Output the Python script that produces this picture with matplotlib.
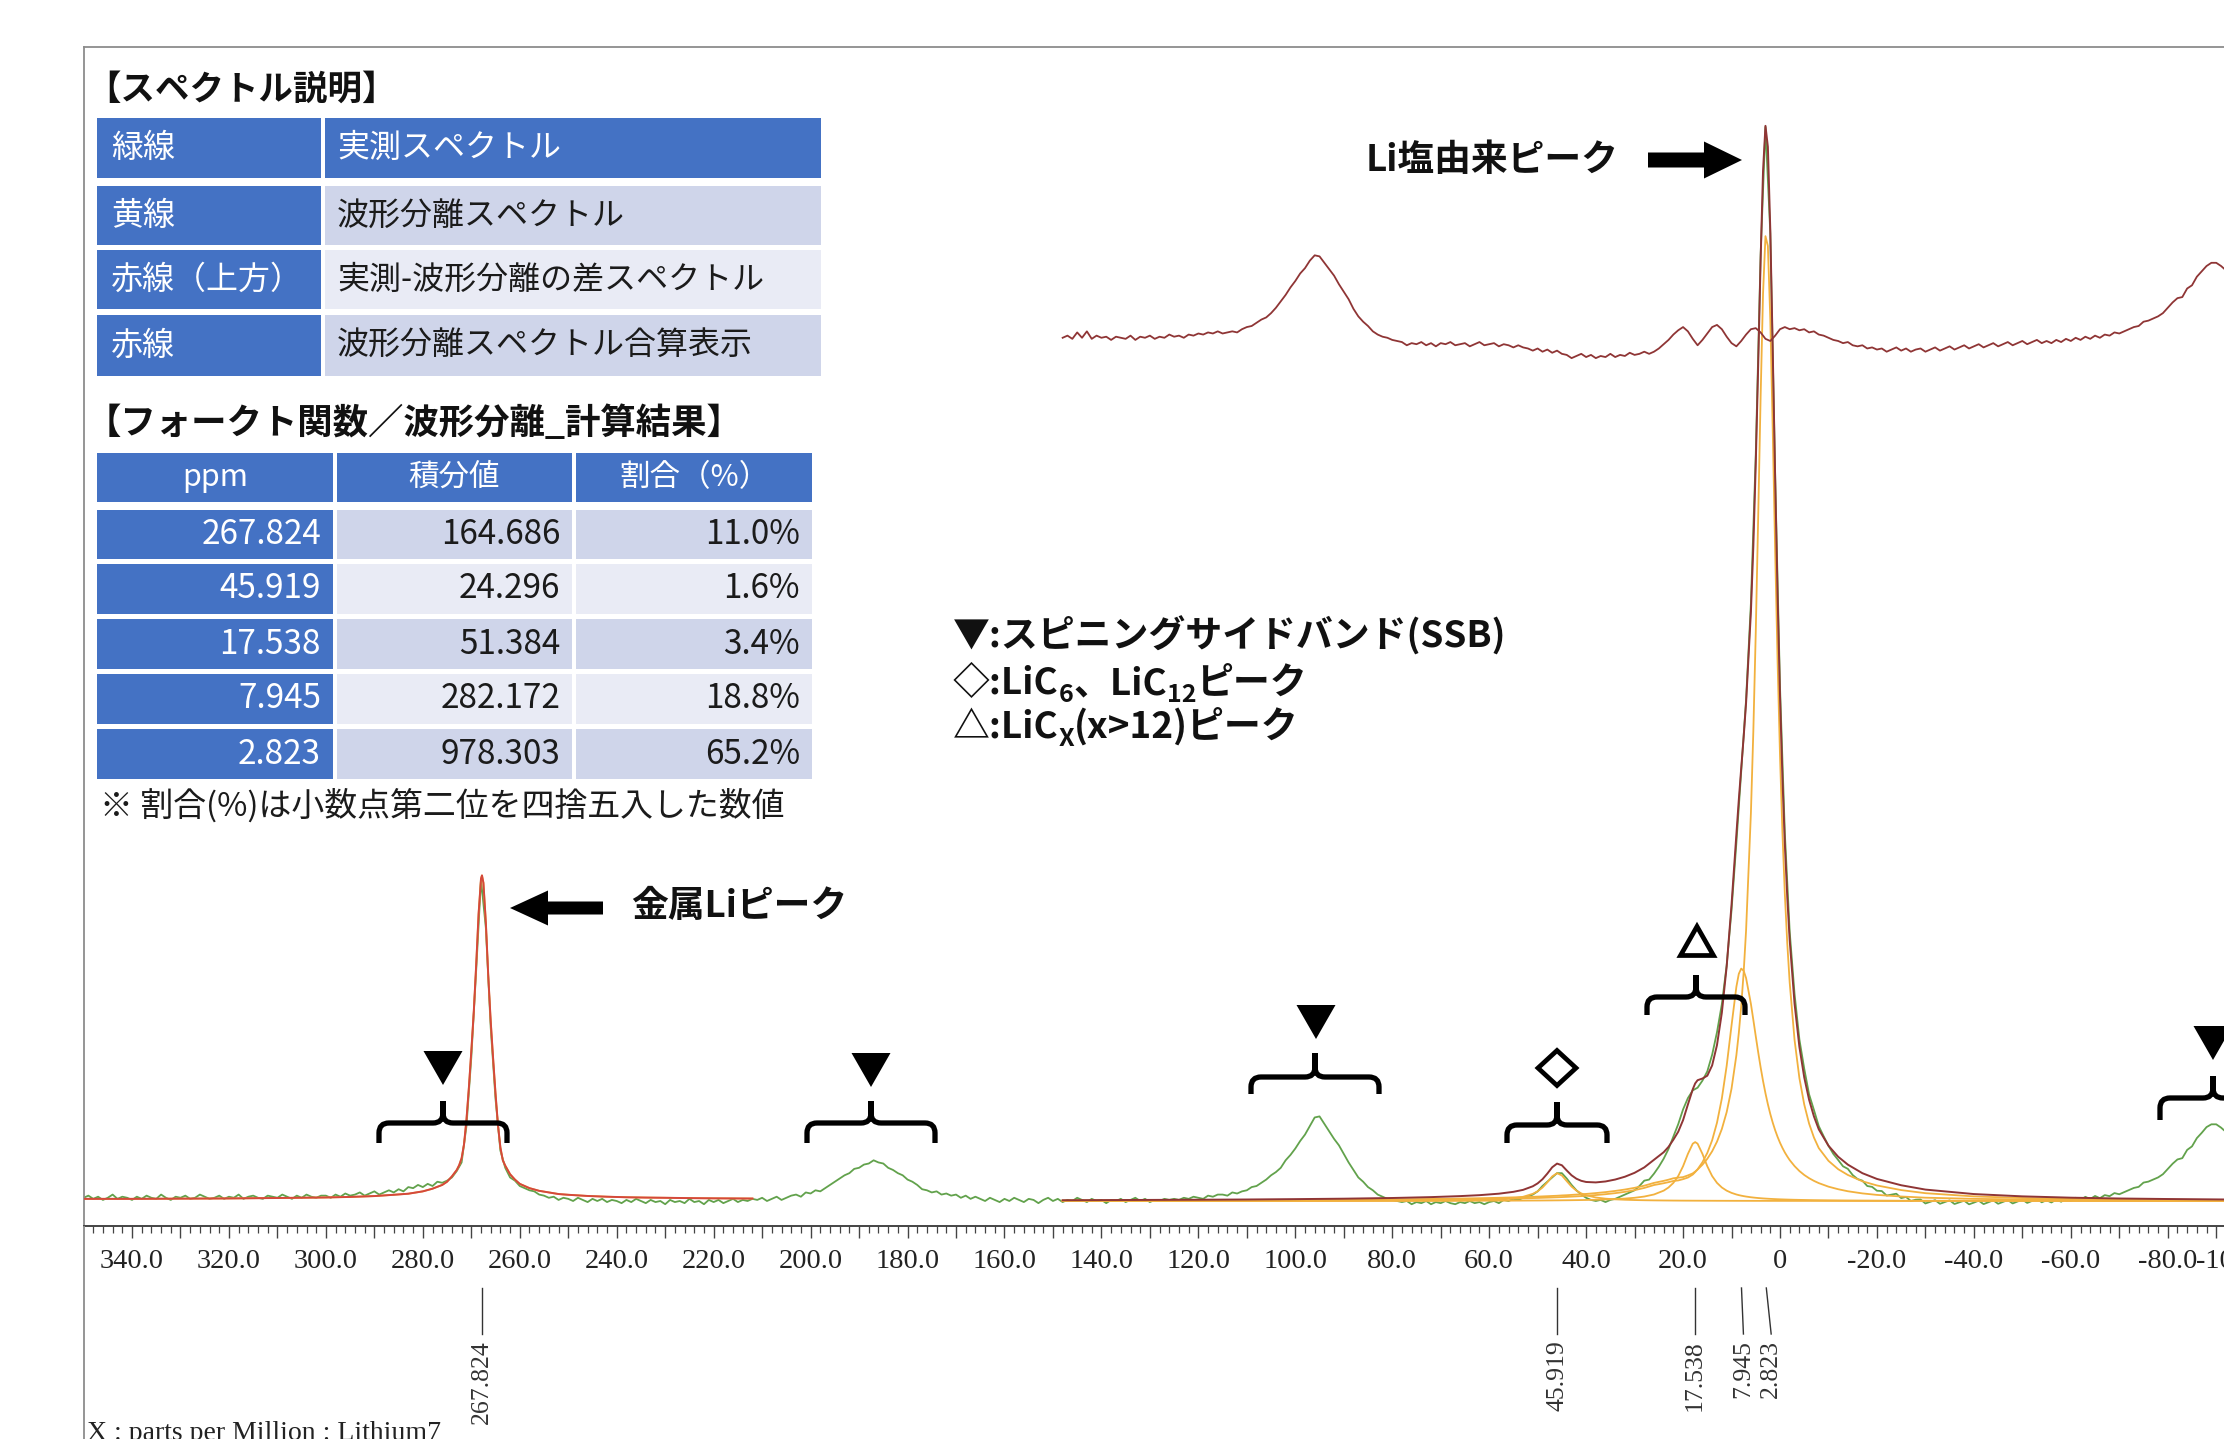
import numpy as np
import matplotlib
matplotlib.use("Agg")
import matplotlib.pyplot as plt
from matplotlib.patches import Rectangle, FancyArrow, Polygon, PathPatch
from matplotlib.path import Path
from matplotlib.ticker import MultipleLocator, FuncFormatter

JP = ["Noto Sans CJK JP", "DejaVu Sans"]
SERIF = ["Liberation Serif", "DejaVu Serif"]
plt.rcParams["font.family"] = JP

# ------------------------------------------------------------------ data
# measured 7Li spectrum (green), 1 ppm steps from 350 ppm down to -92 ppm
GREEN_START = 350
GREEN = [
    0.3,0.5,0.2,0.4,0.1,0.3,0.6,0.2,0.4,0.3,
    0.1,0.4,0.2,0.5,0.3,0.2,0.6,0.3,0.1,0.4,
    0.3,0.5,0.2,0.3,0.6,0.4,0.2,0.3,0.5,0.2,
    0.4,0.3,0.6,0.2,0.4,0.5,0.3,0.2,0.5,0.4,
    0.3,0.6,0.4,0.2,0.5,0.3,0.6,0.4,0.3,0.5,
    0.5,0.3,0.6,0.4,0.7,0.5,0.6,0.8,0.5,0.7,
    0.9,0.6,0.8,1.0,0.8,1.1,0.9,1.3,1.2,1.5,
    1.3,1.6,1.4,1.8,1.7,1.9,2.2,2.8,3.6,7.0,
    13.4,21.5,30.0,25.5,16.2,9.5,4.7,3.1,2.2,1.9,
    1.4,1.2,1.0,0.9,0.6,0.5,0.3,0.4,0.1,0.3,
    0.2,0.0,0.3,0.1,-0.1,0.2,0.0,0.2,-0.1,0.1,
    0.0,-0.2,0.1,-0.1,0.2,0.0,-0.2,0.1,-0.1,0.0,
    -0.3,0.1,-0.1,0.0,-0.2,0.2,-0.1,0.0,-0.3,0.1,
    -0.1,0.1,-0.2,0.0,0.2,-0.1,0.1,0.0,0.2,0.1,
    0.3,0.0,0.2,0.4,0.1,0.3,0.5,0.6,0.4,0.8,
    0.7,1.0,0.9,1.2,1.5,1.8,2.1,2.4,2.6,3.0,
    3.1,3.4,3.5,3.8,3.6,3.5,3.1,2.9,2.6,2.4,
    2.0,1.8,1.5,1.1,1.0,0.8,0.9,0.6,0.7,0.5,
    0.6,0.3,0.5,0.2,0.4,0.2,0.0,0.3,0.1,-0.1,
    0.2,0.0,0.3,0.1,-0.1,0.2,0.1,-0.2,0.1,0.3,
    0.0,0.2,-0.1,0.1,0.0,0.3,0.1,-0.1,0.2,0.0,
    0.1,-0.2,0.1,0.0,0.2,-0.1,0.1,0.3,0.0,0.2,
    -0.1,0.1,0.0,0.2,0.1,0.2,0.1,0.3,0.2,0.4,
    0.3,0.2,0.5,0.4,0.6,0.6,0.5,0.8,0.7,0.9,
    1.0,1.3,1.4,1.7,2.0,2.4,2.7,3.1,3.8,4.3,
    4.9,5.6,6.2,7.0,7.8,7.9,7.2,6.5,5.8,5.2,
    4.4,3.6,2.9,2.2,1.8,1.3,1.0,0.6,0.4,0.2,
    0.1,0.0,-0.1,0.0,-0.3,-0.1,-0.2,0.0,-0.3,-0.1,
    -0.2,0.0,-0.2,-0.3,-0.1,-0.2,0.0,-0.2,-0.1,-0.3,
    -0.1,0.0,-0.2,0.1,0.0,0.2,0.1,0.3,0.4,0.6,
    0.9,1.4,1.8,2.2,2.6,2.6,2.1,1.5,1.0,0.6,
    0.3,0.1,0.0,0.1,-0.1,0.1,0.2,0.4,0.6,0.8,
    1.0,1.4,1.9,2.0,2.55,3.2,3.95,4.86,6.02,7.17,
    8.55,9.61,10.33,10.58,11.24,12.1,13.66,15.76,18.37,22.02,
    27.16,33.44,40.13,46.8,55.83,69.74,88.32,100.29,90.35,67.74,
    48.0,34.33,25.15,19.34,15.09,12.35,9.96,8.5,6.99,6.05,
    5.16,4.4,3.83,3.24,3.0,2.42,2.05,1.9,1.4,1.32,
    0.96,0.93,0.51,0.59,0.68,0.27,0.38,0.0,0.12,0.14,
    -0.23,-0.07,0.08,-0.26,-0.1,0.06,-0.28,-0.12,0.03,-0.31,
    -0.15,0.03,-0.29,-0.12,0.06,-0.26,-0.08,0.09,-0.23,-0.05,
    0.13,-0.18,0.01,0.19,-0.12,0.07,-0.14,0.14,-0.07,0.22,
    0.01,0.30,0.09,0.39,0.18,0.47,0.26,0.55,0.45,0.74,
    0.63,0.83,1.02,1.22,1.32,1.72,1.81,2.0,2.2,2.5,
    2.99,3.48,3.88,4.0,4.77,5.1,5.87,6.36,6.9,7.16,
    7.16,6.85,6.45,
]

# difference spectrum (measured - fit), 1 ppm steps from 148 ppm down to -92 ppm
DIFF_START = 148
DIFF = [
    0.0,0.2,-0.1,0.5,0.0,0.6,-0.1,0.2,0.0,0.1,
    -0.2,0.1,0.0,-0.1,0.2,-0.2,0.1,0.0,0.2,-0.1,
    0.1,0.0,0.3,0.1,0.2,0.0,0.3,0.2,0.4,0.3,
    0.5,0.4,0.6,0.4,0.5,0.6,0.5,0.8,1.0,1.1,
    1.4,1.7,1.9,2.3,2.8,3.4,4.0,4.7,5.3,6.0,
    6.5,7.2,7.7,7.6,7.0,6.4,5.8,5.0,4.3,3.6,
    2.7,2.0,1.5,1.1,0.6,0.3,0.1,0.0,-0.2,-0.3,
    -0.4,-0.7,-0.5,-0.6,-0.4,-0.7,-0.5,-0.8,-0.5,-0.6,
    -0.4,-0.7,-0.6,-0.5,-0.8,-0.6,-0.4,-0.7,-0.6,-0.5,
    -0.8,-0.6,-0.7,-0.9,-0.7,-0.9,-1.0,-1.2,-1.0,-1.3,
    -1.1,-1.4,-1.2,-1.5,-1.6,-1.9,-1.7,-1.5,-1.8,-1.6,
    -1.9,-1.7,-1.8,-1.5,-1.8,-1.6,-1.7,-1.4,-1.6,-1.5,
    -1.3,-1.5,-1.3,-1.0,-0.6,-0.2,0.3,0.7,1.0,0.6,
    -0.1,-0.7,-0.2,0.4,1.0,1.2,0.8,0.1,-0.5,-0.8,
    -0.3,0.3,0.8,0.9,0.5,-0.1,-0.3,0.2,0.8,1.0,
    0.8,0.9,0.7,0.8,0.5,0.6,0.3,0.2,0.0,-0.2,
    -0.3,-0.5,-0.4,-0.7,-0.8,-0.7,-1.0,-0.9,-1.1,-1.0,
    -1.3,-1.1,-0.9,-1.2,-1.0,-1.3,-1.1,-1.0,-1.3,-1.1,
    -0.9,-1.2,-1.0,-0.8,-1.1,-0.9,-0.7,-1.0,-0.8,-0.6,
    -0.9,-0.7,-0.5,-0.8,-0.6,-0.4,-0.7,-0.5,-0.3,-0.6,
    -0.4,-0.2,-0.5,-0.3,-0.5,-0.2,-0.4,-0.1,-0.3,0.0,
    -0.2,0.1,-0.1,0.2,0.0,0.3,0.2,0.5,0.4,0.6,
    0.8,1.0,1.1,1.5,1.6,1.8,2.0,2.3,2.8,3.3,
    3.7,3.8,4.6,4.9,5.7,6.2,6.7,7.0,7.0,6.7,
    6.3,
]

# metallic Li region fit (single component; also its sum)
METAL_PPM = [350, 340, 330, 320, 310, 300, 295, 290, 286, 283, 280, 278, 276, 275, 274, 273,
             272.5, 272, 271.5, 271, 270.5, 270, 269.5, 269, 268.5, 268, 267.8, 267.5, 267, 266.5,
             266, 265.5, 265, 264.5, 264, 263.5, 263, 262, 261, 260, 259, 258, 256, 254, 252,
             250, 246, 242, 238, 234, 230, 225, 220, 216, 212]
METAL_FIT = [0.20, 0.20, 0.22, 0.24, 0.28, 0.33, 0.38, 0.46, 0.58, 0.68, 0.90, 1.15, 1.50, 1.80, 2.30, 2.90,
             3.35, 4.00, 5.30, 7.60, 10.6, 14.0, 17.6, 22.0, 26.8, 30.1, 30.4, 29.7, 26.0, 21.0,
             16.8, 13.3, 10.0, 7.1, 5.0, 3.8, 3.3, 2.5, 2.0, 1.6, 1.4, 1.2, 0.95, 0.80, 0.65,
             0.58, 0.47, 0.40, 0.35, 0.32, 0.30, 0.27, 0.25, 0.24, 0.23]

# main region deconvolution components (yellow), their sum is the red fit
FIT_PPM = [148, 140, 130, 120, 110, 100, 90, 80, 72, 66, 62, 58, 55, 53, 51, 50,
           49, 48, 47, 46, 45, 44, 43, 42, 41, 40, 38, 36, 34, 32, 30, 28,
           26, 24, 23, 22, 21, 20, 19, 18, 17.5, 17, 16, 15, 14, 13, 12, 11,
           10, 9, 8.5, 8, 7.5, 7, 6, 5.5, 5, 4.5, 4, 3.5, 3, 2.5, 2, 1.5,
           1, 0.5, 0, -0.5, -1, -1.5, -2, -3, -4, -5, -6, -7, -8, -10, -12, -14,
           -17, -20, -25, -30, -40, -50, -60, -70, -80, -92]
COMP_2823 = [.04, .05, .06, .07, .08, .10, .12, .15, .19, .23, .26, .30, .34, .36, .39, .41,
             .43, .45, .47, .49, .52, .54, .57, .60, .63, .66, .74, .83, .94, 1.07, 1.23, 1.43,
             1.69, 1.88, 1.99, 2.12, 2.18, 2.23, 2.39, 2.58, 2.75, 2.94, 3.39, 3.94, 4.64, 5.54, 6.72, 8.30,
             10.49, 13.61, 15.68, 18.21, 21.34, 25.25, 36.26, 43.88, 53.15, 63.85, 75.06, 84.72, 90.09, 89.17, 82.32, 71.96,
             60.74, 50.39, 41.59, 34.41, 28.65, 24.06, 20.39, 15.05, 11.48, 9.01, 7.23, 5.93, 4.94, 3.75, 2.97, 2.43,
             1.84, 1.45, 1.02, .73, .43, .28, .20, .15, .12, .09]
COMP_7945 = [.026, .029, .034, .040, .049, .060, .075, .097, .122, .149, .173, .202, .227, .248, .272, .284,
             .299, .313, .329, .346, .365, .385, .409, .432, .457, .486, .553, .634, .733, .855, 1.013, 1.22,
             1.49, 1.66, 1.76, 1.87, 1.92, 2.04, 2.19, 2.47, 2.70, 2.96, 3.62, 4.49, 5.67, 7.31, 9.57, 12.63,
             16.39, 20.00, 21.21, 21.70, 21.50, 20.82, 18.40, 16.91, 15.38, 13.89, 12.49, 11.21, 10.06, 9.03, 8.12, 7.32,
             6.61, 5.99, 5.44, 4.96, 4.53, 4.16, 3.82, 3.26, 2.80, 2.43, 2.13, 1.88, 1.67, 1.34, 1.10, 0.91,
             0.71, 0.57, 0.42, 0.31, 0.20, 0.14, 0.10, 0.075, 0.059, 0.046]
COMP_17538 = [.003, .003, .004, .005, .006, .007, .009, .013, .017, .021, .025, .030, .035, .039, .044, .046,
              .049, .053, .056, .060, .065, .070, .075, .081, .088, .096, .115, .141, .176, .226, .300, .416,
              .609, .966, 1.261, 1.692, 2.329, 3.246, 4.400, 5.351, 5.500, 5.351, 4.400, 3.246, 2.329, 1.692, 1.261, .966,
              .759, .609, .550, .499, .454, .415, .350, .324, .300, .278, .259, .241, .226, .212, .199, .187,
              .176, .166, .157, .149, .141, .134, .127, .115, .105, .096, .088, .081, .075, .065, .056, .049,
              .041, .035, .027, .022, .015, .011, .008, .006, .005, .004]
COMP_45919 = [.002, .003, .003, .004, .006, .008, .012, .020, .034, .057, .087, .151, .255, .394, .669, .907,
              1.257, 1.745, 2.292, 2.597, 2.385, 1.856, 1.344, .967, .709, .534, .328, .219, .155, .116, .089, .071,
              .058, .048, .044, .040, .037, .034, .032, .030, .029, .028, .026, .024, .023, .021, .020, .019,
              .018, .017, .017, .016, .016, .015, .015, .014, .014, .014, .013, .013, .013, .012, .012, .012,
              .012, .011, .011, .011, .011, .010, .010, .010, .009, .009, .009, .008, .008, .007, .007, .006,
              .006, .005, .004, .004, .003, .002, .002, .002, .001, .001]

PEAK_PPM = [267.824, 45.919, 17.538, 7.945, 2.823]
PEAK_TEXT = ["267.824", "45.919", "17.538", "7.945", "2.823"]
PEAK_LABEL_SHIFT = [0.0, 0.0, 0.0, -0.4, -1.0]   # fan-out of crowded labels (ppm)

SPEC_TITLE = "【スペクトル説明】"
SPEC_KEYS = ["緑線", "黄線", "赤線（上方）", "赤線"]
SPEC_DESC = ["実測スペクトル", "波形分離スペクトル", "実測-波形分離の差スペクトル", "波形分離スペクトル合算表示"]

RES_TITLE = "【フォークト関数／波形分離_計算結果】"
RES_HEAD = ["ppm", "積分値", "割合（%）"]
RES_PPM = ["267.824", "45.919", "17.538", "7.945", "2.823"]
RES_INT = ["164.686", "24.296", "51.384", "282.172", "978.303"]
RES_PCT = ["11.0%", "1.6%", "3.4%", "18.8%", "65.2%"]
RES_NOTE = "※ 割合(%)は小数点第二位を四捨五入した数値"

DIFF_OFFSET = 80.6

# ------------------------------------------------------------------ figure
W, H = 2224, 1439
fig = plt.figure(figsize=(W / 100, H / 100), dpi=100)
fig.patch.set_facecolor("white")

X0PPM, PXPPM = 1780.0, 4.847   # pixel x of 0 ppm, pixels per ppm
Y0INT, PXINT = 1201.0, 10.71   # pixel y of zero intensity, pixels per unit
AX_L, AX_R, AX_T, AX_B = 84, 2400, 47, 1226


def ppm_at(X):
    return (X0PPM - X) / PXPPM


FRAME = "#8c8c8c"
AXC = "#444444"
GREEN_C = "#62a24c"
YEL_C = "#f2b13e"
RED_A = "#d4483c"
RED_B = "#8f3535"
BLUE = "#4472C4"
LIGHT = "#CFD5EA"
LIGHTER = "#E9EBF5"

ax = fig.add_axes([AX_L / W, 1 - AX_B / H, (AX_R - AX_L) / W, (AX_B - AX_T) / H])
ax.set_xlim(ppm_at(AX_L), ppm_at(AX_R))
ax.set_ylim((Y0INT - AX_B) / PXINT, (Y0INT - AX_T) / PXINT)
ax.spines["right"].set_visible(False)
for s in ("top", "left"):
    ax.spines[s].set_color(FRAME)
    ax.spines[s].set_linewidth(1.3)
ax.spines["bottom"].set_color(AXC)
ax.spines["bottom"].set_linewidth(1.4)
ax.set_yticks([])

ax.xaxis.set_major_locator(MultipleLocator(10))
ax.xaxis.set_minor_locator(MultipleLocator(2))


def fmt(v, pos):
    k = int(round(v))
    if abs(v - k) > 1e-6 or k % 20 != 0 or k < -90:
        return ""
    return "0" if k == 0 else f"{k:.1f}"


ax.xaxis.set_major_formatter(FuncFormatter(fmt))
ax.tick_params(axis="x", which="major", direction="out", length=8.5, width=1.0, color=AXC,
               pad=8, labelsize=20.5, labelcolor="#222222", labelfontfamily="Liberation Serif")
ax.tick_params(axis="x", which="minor", direction="out", length=5, width=0.9, color=AXC)

xtr = ax.get_xaxis_transform()


def yfrac(Y):
    return (AX_B - Y) / (AX_B - AX_T)


# last tick label is pushed against the edge of the plotting window
ax.text(-101, yfrac(1249), "-100.0", transform=xtr, ha="right", va="top",
        fontsize=20.5, color="#222222", family=SERIF, clip_on=False)

# spectra
g_ppm = GREEN_START - np.arange(len(GREEN))
ax.plot(g_ppm, GREEN, color=GREEN_C, lw=1.3, zorder=2)

fit_ppm = np.array(FIT_PPM, dtype=float)
comps = [np.array(c) for c in (COMP_45919, COMP_17538, COMP_7945, COMP_2823)]
for c in comps:
    ax.plot(fit_ppm, c, color=YEL_C, lw=1.3, zorder=3)
ax.plot(METAL_PPM, METAL_FIT, color=YEL_C, lw=1.3, zorder=3)
ax.plot(fit_ppm, np.sum(comps, axis=0), color=RED_B, lw=1.4, zorder=4)
ax.plot(METAL_PPM, METAL_FIT, color=RED_A, lw=1.4, zorder=4)

d_ppm = DIFF_START - np.arange(len(DIFF))
ax.plot(d_ppm, np.array(DIFF) + DIFF_OFFSET, color=RED_B, lw=1.3, zorder=4)

# peak picking labels below the axis
for p, txt, sh in zip(PEAK_PPM, PEAK_TEXT, PEAK_LABEL_SHIFT):
    ax.plot([p, p + sh], [yfrac(1288), yfrac(1334)], transform=xtr, clip_on=False,
            color="#333333", lw=1.0)
    ax.text(p + sh, yfrac(1340), txt, transform=xtr, rotation=90, ha="center", va="top",
            fontsize=18.5, family=SERIF, color="#333333", clip_on=False)

# ------------------------------------------------------------------ overlay (pixel space)
ov = fig.add_axes([0, 0, 1, 1], zorder=5)
ov.set_xlim(0, W)
ov.set_ylim(H, 0)
ov.axis("off")
ov.patch.set_visible(False)

ov.plot([AX_L, AX_L], [AX_B, H], color=FRAME, lw=1.3, solid_capstyle="butt")
ov.text(87, 1421, "X : parts per Million : Lithium7", ha="left", va="top",
        fontsize=20, family=SERIF, color="#222222")


def cell(x0, y0, x1, y1, color):
    ov.add_patch(Rectangle((x0, y0), x1 - x0, y1 - y0, facecolor=color, edgecolor="none"))


# table 1
ov.text(86, 89, SPEC_TITLE, ha="left", va="center", fontsize=24.8, fontweight="bold", color="#111111")
T1_ROWS = [(118, 178), (186, 245), (250, 309), (315, 376)]
T1_COLS = [(97, 321), (325, 821)]
t1_colors = [BLUE, LIGHT, LIGHTER, LIGHT]
for i, (y0, y1) in enumerate(T1_ROWS):
    cell(T1_COLS[0][0], y0, T1_COLS[0][1], y1, BLUE)
    cell(T1_COLS[1][0], y0, T1_COLS[1][1], y1, t1_colors[i])
    yc = (y0 + y1) / 2
    ov.text(111, yc, SPEC_KEYS[i], ha="left", va="center", fontsize=23, color="white")
    ov.text(337, yc, SPEC_DESC[i], ha="left", va="center", fontsize=23,
            color="white" if i == 0 else "#1b1b1b")

# table 2
ov.text(86, 423, RES_TITLE, ha="left", va="center", fontsize=25.5, fontweight="bold", color="#111111")
T2_ROWS = [(453, 502), (510, 559), (564, 614), (619, 669), (674, 724), (729, 779)]
T2_COLS = [(97, 333), (337, 572), (576, 812)]
for j, (x0, x1) in enumerate(T2_COLS):
    y0, y1 = T2_ROWS[0]
    cell(x0, y0, x1, y1, BLUE)
    ov.text((x0 + x1) / 2, (y0 + y1) / 2, RES_HEAD[j], ha="center", va="center",
            fontsize=22, color="white")
for i, (y0, y1) in enumerate(T2_ROWS[1:]):
    shade = LIGHT if i % 2 == 0 else LIGHTER
    vals = [RES_PPM[i], RES_INT[i], RES_PCT[i]]
    for j, (x0, x1) in enumerate(T2_COLS):
        cell(x0, y0, x1, y1, BLUE if j == 0 else shade)
        ov.text(x1 - 12, (y0 + y1) / 2, vals[j], ha="right", va="center", fontsize=24,
                color="white" if j == 0 else "#1b1b1b")
ov.text(100, 806, RES_NOTE, ha="left", va="center", fontsize=23.7, color="#1b1b1b")

# legend of symbols (with subscripts)
renderer = fig.canvas.get_renderer()


def rich(x, y, pieces):
    for s, size, dy in pieces:
        t = ov.text(x, y + dy, s, fontsize=size, fontweight="bold", ha="left", va="baseline",
                    color="#111111")
        x += t.get_window_extent(renderer=renderer).width


rich(953, 648, [("▼:スピニングサイドバンド(SSB)", 26.6, 0)])
rich(953, 694, [("◇:LiC", 26.6, 0), ("6", 18, 8), ("、LiC", 26.6, 0), ("12", 18, 8), ("ピーク", 26.6, 0)])
rich(953, 738, [("△:LiC", 26.6, 0), ("X", 18, 8), ("(x>12)ピーク", 26.6, 0)])

# peak call-outs
ov.text(1366, 161, "Li塩由来ピーク", ha="left", va="center", fontsize=26.5, fontweight="bold", color="#111111")
ov.add_patch(FancyArrow(1648, 160, 94, 0, width=15, head_width=37, head_length=38,
                        length_includes_head=True, color="black", lw=0))
ov.text(631, 906, "金属Liピーク", ha="left", va="center", fontsize=26.5, fontweight="bold", color="#111111")
ov.add_patch(FancyArrow(603, 908, -93, 0, width=13, head_width=35, head_length=38,
                        length_includes_head=True, color="black", lw=0))


def brace(xc, half, yb, end_len, tip_len, r=10):
    xl, xr = xc - half, xc + half
    verts, codes = [], []
    for xe, sgn in ((xl, 1), (xr, -1)):
        verts += [(xe, yb + end_len), (xe, yb + r), (xe, yb), (xe + sgn * r, yb),
                  (xc - sgn * r, yb), (xc, yb), (xc, yb - r), (xc, yb - tip_len)]
        codes += [Path.MOVETO, Path.LINETO, Path.CURVE3, Path.CURVE3,
                  Path.LINETO, Path.CURVE3, Path.CURVE3, Path.LINETO]
    ov.add_patch(PathPatch(Path(verts, codes), fill=False, lw=3.8, edgecolor="black",
                           capstyle="butt", joinstyle="round"))


for b in [(443, 64, 1123, 20, 22), (871, 64, 1123, 20, 22), (1315, 64, 1077, 17, 24),
          (1557, 50, 1125, 18, 23), (1696, 49, 997, 18, 22), (2213, 53, 1098, 22, 22)]:
    brace(*b)

for xc, yc in [(443, 1068), (871, 1070), (1316, 1022), (2213, 1043)]:
    w, h = 39, 34
    ov.add_patch(Polygon([(xc - w / 2, yc - h / 2), (xc + w / 2, yc - h / 2), (xc, yc + h / 2)],
                         closed=True, facecolor="black", edgecolor="none"))
# open diamond and open triangle
xc, yc, w, h = 1557, 1068, 38, 35
ov.add_patch(Polygon([(xc, yc - h / 2), (xc + w / 2, yc), (xc, yc + h / 2), (xc - w / 2, yc)],
                     closed=True, fill=False, lw=3.4, edgecolor="black", joinstyle="miter"))
xc, yc, w, h = 1697, 941, 33, 29
ov.add_patch(Polygon([(xc, yc - h / 2), (xc + w / 2, yc + h / 2), (xc - w / 2, yc + h / 2)],
                     closed=True, fill=False, lw=3.4, edgecolor="black", joinstyle="miter"))

fig.savefig("out.png", dpi=100, facecolor="white")
